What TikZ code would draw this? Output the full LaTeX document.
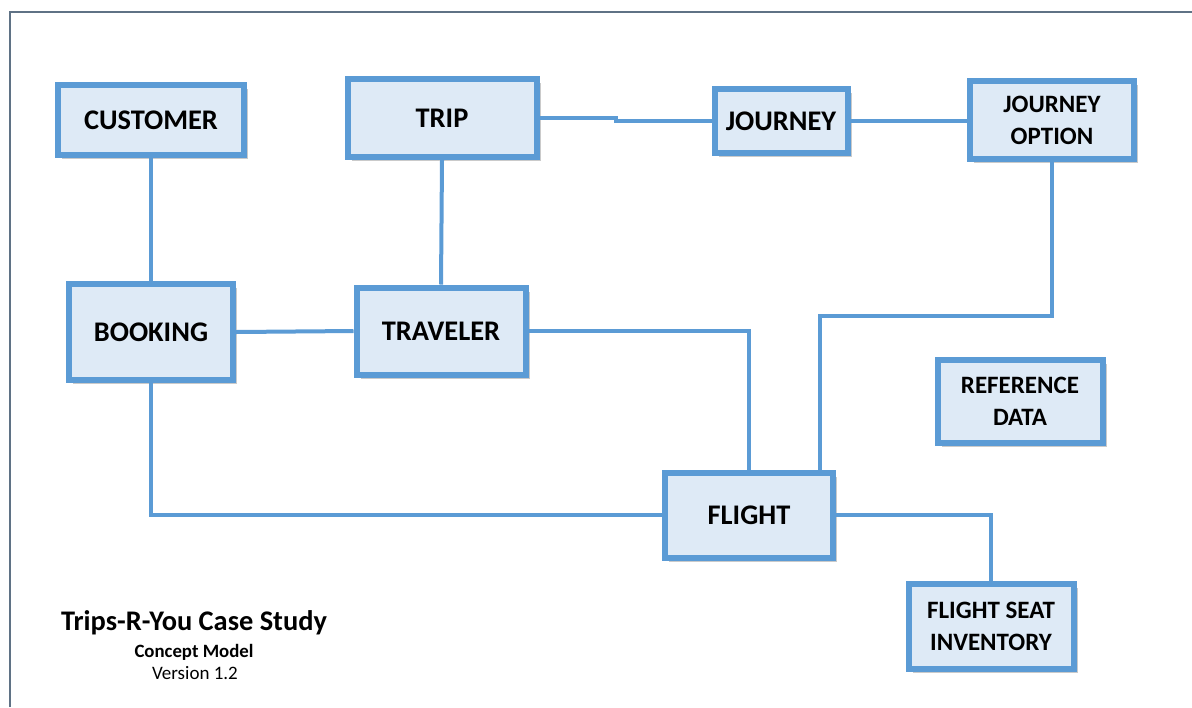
\documentclass[tikz,border=0pt]{standalone}
\usepackage{fontspec}
\setmainfont{Carlito}
\usetikzlibrary{shadows}

\definecolor{boxline}{HTML}{5B9BD5}
\definecolor{boxfill}{HTML}{DEEAF6}
\definecolor{frameline}{HTML}{5F7285}

\tikzset{
  entity/.style={draw=boxline,fill=boxfill,line width=3pt,align=center,
    font=\fontsize{14.2}{16}\selectfont\bfseries,
    drop shadow={shadow xshift=2pt,shadow yshift=-2pt,opacity=0.35,fill=black!60}},
  entity2/.style={entity,font=\fontsize{12.5}{16}\selectfont\bfseries},
  link/.style={draw=boxline,line width=2pt}
}

\begin{document}
\begin{tikzpicture}[x=0.5pt,y=-0.5pt]

  \useasboundingbox (0,0) rectangle (1192,707);
  \draw[frameline,line width=1pt] (10,707) -- (10,12) -- (1192,12);

  % top row
  \node[entity,minimum width=93pt,minimum height=35pt] (customer) at (151,120) {CUSTOMER};
  \node[entity,minimum width=94.5pt,minimum height=39pt] (trip) at (442,118) {TRIP};
  \node[entity,minimum width=66.5pt,minimum height=32pt] (journey) at (781,121) {JOURNEY};
  \node[entity2,minimum width=82pt,minimum height=39pt] (jopt) at (1052,120) {JOURNEY\\OPTION};

  % middle row
  \node[entity,minimum width=82pt,minimum height=48pt] (booking) at (151,332) {BOOKING};
  \node[entity,minimum width=84.5pt,minimum height=43.5pt] (traveler) at (441,331) {TRAVELER};
  \node[entity2,minimum width=82.5pt,minimum height=41.5pt] (refdata) at (1020,401) {REFERENCE\\DATA};

  % bottom row
  \node[entity,minimum width=84pt,minimum height=42.5pt] (flight) at (749,515) {FLIGHT};
  \node[entity2,minimum width=82.5pt,minimum height=42.5pt] (fsi) at (991,626) {FLIGHT SEAT\\INVENTORY};

  % caption
  \node[font=\fontsize{14.2}{16}\selectfont\bfseries,anchor=base] (title) at (194,630) {Trips-R-You Case Study};
  \node[font=\fontsize{9.4}{11}\selectfont\bfseries,anchor=base] (subtitle) at (194,657) {Concept Model};
  \node[font=\fontsize{9.5}{11}\selectfont,anchor=base] (version) at (195,679) {Version 1.2};

  % connectors
  \coordinate (tjstep) at (616,121);
  \coordinate (jbend) at (820,316);
  \draw[link] (customer.south) -- (booking.north);
  \draw[link] (trip.south) -- (traveler.north);
  \draw[link] (trip.east) -- (trip.east -| tjstep) -- (tjstep) -- (journey.west);
  \draw[link] (journey.east) -- (jopt.west |- journey.east);
  \draw[link] (booking.east) -- (traveler.west);
  \draw[link] (traveler.east) -| (flight.north);
  \draw[link] (jopt.south) |- (jbend) -- (jbend |- flight.north);
  \draw[link] (booking.south) |- (flight.west);
  \draw[link] (flight.east) -| (fsi.north);

\end{tikzpicture}
\end{document}
